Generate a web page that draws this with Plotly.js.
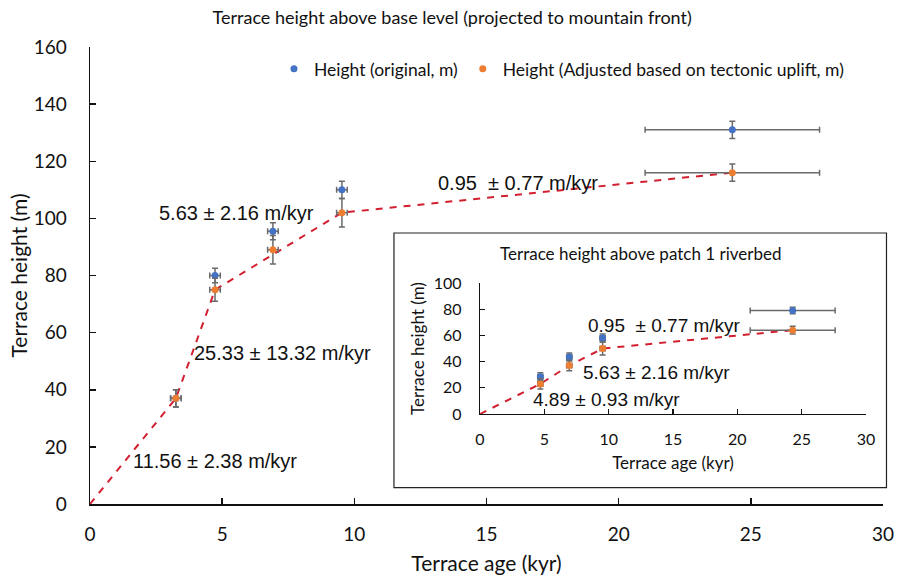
<!DOCTYPE html>
<html>
<head>
<meta charset="utf-8">
<script src="https://cdn.plot.ly/plotly-3.0.1.min.js"></script>
<style>html,body{margin:0;padding:0;background:#fff;}#chart{width:899px;height:578px;}</style>
</head>
<body>
<div id="chart"></div>
<script>
// Main chart data (terrace height above base level)
var ages = [3.25, 4.73, 6.92, 9.53, 24.3];
var ageErr = [0.2, 0.2, 0.2, 0.2, 3.3];
var heightOrig = [37, 80, 95.5, 110, 131];
var heightOrigErr = [3, 2.5, 3, 3, 3];
var heightAdj = [37, 75, 89, 102, 116];
var heightAdjErr = [3, 4, 5, 5, 3];
var fitAges = [0, 3.25, 4.73, 9.53, 24.3];
var fitHeights = [0, 37, 75, 102, 116];
var rateLabels = ["11.56 ± 2.38 m/kyr", "25.33 ± 13.32 m/kyr", "5.63 ± 2.16 m/kyr", "0.95  ± 0.77 m/kyr"];
var rateX = [4.73, 7.3, 5.56, 16.19];
var rateY = [15.1, 52.9, 101.9, 112.4];

// Inset data (terrace height above patch 1 riverbed)
var insetAges = [4.69, 6.94, 9.53, 24.3];
var insetAgeErr = [0.2, 0.2, 0.2, 3.3];
var insetOrig = [28.5, 43.5, 58, 79];
var insetOrigErr = [3, 3, 3, 2.5];
var insetAdj = [23, 37, 50, 64];
var insetAdjErr = [4, 4, 5, 3];
var insetFitAges = [0, 4.69, 6.94, 9.53, 24.3];
var insetFitHeights = [0, 23, 37, 50, 64];
var insetRateLabels = ["4.89 ± 0.93 m/kyr", "5.63 ± 2.16 m/kyr", "0.95  ± 0.77 m/kyr"];
var insetRateX = [9.87, 13.75, 14.37];
var insetRateY = [10.7, 32, 67.9];

var xTicks = [0, 5, 10, 15, 20, 25, 30];
var yTicks = [0, 20, 40, 60, 80, 100, 120, 140, 160];
var insetYTicks = [0, 20, 40, 60, 80, 100];

var BLUE = '#4472C4', ORANGE = '#ED7D31', RED = '#D21F2F', ERR = '#6a6a6a';
var CAL = 'Lato, "Open Sans", sans-serif';
var ARIAL = '"Liberation Sans", Arial, sans-serif';

function errBar(arr) { return {type: 'data', array: arr, visible: true, color: ERR, thickness: 1.5, width: 3}; }

var traces = [
  {x: fitAges, y: fitHeights, mode: 'lines', line: {color: RED, width: 2, dash: '7px,7px'}, showlegend: false, hoverinfo: 'skip', xaxis: 'x', yaxis: 'y'},
  {x: ages, y: heightOrig, mode: 'markers', name: 'Height (original, m)', marker: {color: BLUE, size: 7, symbol: 'circle'},
   error_y: errBar(heightOrigErr), error_x: errBar(ageErr), xaxis: 'x', yaxis: 'y'},
  {x: ages, y: heightAdj, mode: 'markers', name: 'Height (Adjusted based on tectonic uplift, m)', marker: {color: ORANGE, size: 7, symbol: 'circle'},
   error_y: errBar(heightAdjErr), error_x: errBar(ageErr), xaxis: 'x', yaxis: 'y'},
  {x: insetFitAges, y: insetFitHeights, mode: 'lines', line: {color: RED, width: 2, dash: '7px,7px'}, showlegend: false, hoverinfo: 'skip', xaxis: 'x2', yaxis: 'y2'},
  {x: insetAges, y: insetOrig, mode: 'markers', showlegend: false, marker: {color: BLUE, size: 7, symbol: 'circle'},
   error_y: errBar(insetOrigErr), error_x: errBar(insetAgeErr), xaxis: 'x2', yaxis: 'y2'},
  {x: insetAges, y: insetAdj, mode: 'markers', showlegend: false, marker: {color: ORANGE, size: 7, symbol: 'circle'},
   error_y: errBar(insetAdjErr), error_x: errBar(insetAgeErr), xaxis: 'x2', yaxis: 'y2'}
];

var annotations = [];
for (var i = 0; i < rateLabels.length; i++) {
  annotations.push({x: rateX[i], y: rateY[i], xref: 'x', yref: 'y', text: rateLabels[i], showarrow: false,
    xanchor: 'center', yanchor: 'middle', font: {family: ARIAL, size: 20, color: '#111'}});
}
for (var j = 0; j < insetRateLabels.length; j++) {
  annotations.push({x: insetRateX[j], y: insetRateY[j], xref: 'x2', yref: 'y2', text: insetRateLabels[j], showarrow: false,
    xanchor: 'center', yanchor: 'middle', font: {family: ARIAL, size: 19, color: '#111'}});
}
annotations.push({x: 0.6948, y: 0.549, xref: 'paper', yref: 'paper', text: 'Terrace height above patch 1 riverbed',
  showarrow: false, xanchor: 'center', yanchor: 'middle', font: {family: CAL, size: 17, color: '#111'}});

var axCommon = {showgrid: false, zeroline: false, showline: true, linecolor: '#111', linewidth: 1.5,
  ticks: 'inside', ticklen: 6, tickwidth: 1.5, tickcolor: '#111'};

var layout = {
  width: 899, height: 578,
  margin: {l: 90, r: 16, t: 47, b: 74},
  paper_bgcolor: '#fff', plot_bgcolor: 'rgba(0,0,0,0)',
  title: {text: 'Terrace height above base level (projected to mountain front)', font: {family: CAL, size: 18, color: '#111'},
    x: 0.503, xanchor: 'center', y: 0.97, yanchor: 'middle'},
  xaxis: Object.assign({}, axCommon, {range: [0, 30], tickvals: xTicks, domain: [0, 1], ticklabelstandoff: 13,
    tickfont: {family: CAL, size: 19, color: '#111'},
    title: {text: 'Terrace age (kyr)', font: {family: CAL, size: 21, color: '#111'}, standoff: 12}}),
  yaxis: Object.assign({}, axCommon, {range: [0, 160], tickvals: yTicks, domain: [0, 1], ticklabelstandoff: 18,
    tickfont: {family: CAL, size: 19, color: '#111'},
    title: {text: 'Terrace height (m)', font: {family: CAL, size: 21, color: '#111'}, standoff: 0}}),
  xaxis2: Object.assign({}, axCommon, {range: [0, 30], tickvals: xTicks, domain: [0.4918, 0.9786], anchor: 'y2', linewidth: 1.3, tickwidth: 1.3, ticklen: 5,
    ticklabelstandoff: 10,
    tickfont: {family: CAL, size: 16, color: '#111'},
    title: {text: 'Terrace age (kyr)', font: {family: CAL, size: 17, color: '#111'}, standoff: 10}}),
  yaxis2: Object.assign({}, axCommon, {range: [0, 100], tickvals: insetYTicks, domain: [0.1969, 0.4836], anchor: 'x2', linewidth: 1.3, tickwidth: 1.3, ticklen: 5,
    ticklabelstandoff: 14,
    tickfont: {family: CAL, size: 16, color: '#111'},
    title: {text: 'Terrace height (m)', font: {family: CAL, size: 17, color: '#111'}, standoff: 4}}),
  legend: {orientation: 'h', x: 0.232, y: 0.952, xanchor: 'left', yanchor: 'middle', bgcolor: 'rgba(0,0,0,0)',
    font: {family: CAL, size: 17.5, color: '#111'}},
  shapes: [{type: 'rect', xref: 'paper', yref: 'paper', x0: 0.3833, x1: 1.0044, y0: 0.0357, y1: 0.593,
    line: {color: '#222', width: 1.2}, fillcolor: '#fff', layer: 'below'}],
  annotations: annotations,
  showlegend: true
};

Plotly.newPlot('chart', traces, layout, {displayModeBar: false, staticPlot: true});
</script>
</body>
</html>
